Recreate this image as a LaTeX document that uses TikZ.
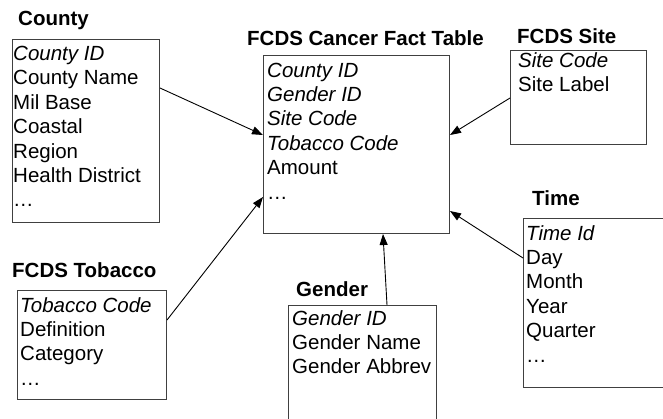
\documentclass[tikz,border=0pt]{standalone}
\usepackage{fontspec}
\setmainfont{Liberation Sans}
\usetikzlibrary{arrows.meta}
% one field per row; the baseline of the list is its first row
\newcommand{\fieldlist}[1]{\begin{tabular}[t]{@{}l@{}}#1\end{tabular}}
\begin{document}
\begin{tikzpicture}[x=1pt,y=-1pt,
  table/.style={draw=black!75,line width=1pt,rectangle,inner sep=0pt,anchor=north west},
  fields/.style={anchor=base west,inner sep=0pt,
    font=\fontsize{20.5}{24.4}\selectfont},
  title/.style={anchor=base west,inner sep=0pt,
    font=\fontsize{20.5}{24}\selectfont\bfseries},
  link/.style={line width=0.9pt,-{Triangle[length=11pt,width=8pt]}}]
\useasboundingbox (0,0) rectangle (663,418);
\clip (0,0) rectangle (663,418);

% table outlines
\node[table,minimum width=147pt,minimum height=183pt] (county) at (12,39) {};
\node[table,minimum width=186pt,minimum height=178pt] (fact) at (263,55) {};
\node[table,minimum width=136pt,minimum height=94pt] (site) at (510,50) {};
\node[table,minimum width=149pt,minimum height=109pt] (tobacco) at (17,290) {};
\node[table,minimum width=148pt,minimum height=130pt] (gender) at (288,305) {};
\node[table,minimum width=160pt,minimum height=169pt] (time) at (523,218) {};

% table names
\node[title] (countyT) at (18,25) {County};
\node[title] (factT) at (247,45) {FCDS Cancer Fact Table};
\node[title] (siteT) at (517,43) {FCDS Site};
\node[title] (tobaccoT) at (12,277) {FCDS Tobacco};
\node[title] (genderT) at (296,296) {Gender};
\node[title] (timeT) at (532,205) {Time};

% field lists (keys in italics)
\node[fields] (countyF) at ([xshift=1pt,yshift=-21.5pt]county.north west)
  {\fieldlist{\textit{County ID}\\County Name\\Mil Base\\Coastal\\Region\\Health District\\\dots}};
\node[fields] (factF) at ([xshift=4pt,yshift=-22pt]fact.north west)
  {\fieldlist{\textit{County ID}\\\textit{Gender ID}\\\textit{Site Code}\\\textit{Tobacco Code}\\Amount\\\dots}};
\node[fields] (siteF) at ([xshift=8pt,yshift=-17pt]site.north west)
  {\fieldlist{\textit{Site Code}\\Site Label}};
\node[fields] (tobaccoF) at ([xshift=3pt,yshift=-22pt]tobacco.north west)
  {\fieldlist{\textit{Tobacco Code}\\Definition\\Category\\\dots}};
\node[fields] (genderF) at ([xshift=4pt,yshift=-20pt]gender.north west)
  {\fieldlist{\textit{Gender ID}\\Gender Name\\Gender Abbrev}};
\node[fields] (timeF) at ([xshift=3pt,yshift=-22pt]time.north west)
  {\fieldlist{\textit{Time Id}\\Day\\Month\\Year\\Quarter\\\dots}};

% dimension links into the fact table
\draw[link] ([yshift=-49pt]county.north east) -- ([yshift=-80pt]fact.north west);
\draw[link] ([yshift=-48pt]site.north west) -- ([yshift=-80pt]fact.north east);
\draw[link] ([yshift=-30pt]tobacco.north east) -- ([yshift=-142pt]fact.north west);
\draw[link] ([xshift=99pt]gender.north west) -- ([xshift=120pt]fact.south west);
\draw[link] ([yshift=-40pt]time.north west) -- ([yshift=-156pt]fact.north east);
\end{tikzpicture}
\end{document}
